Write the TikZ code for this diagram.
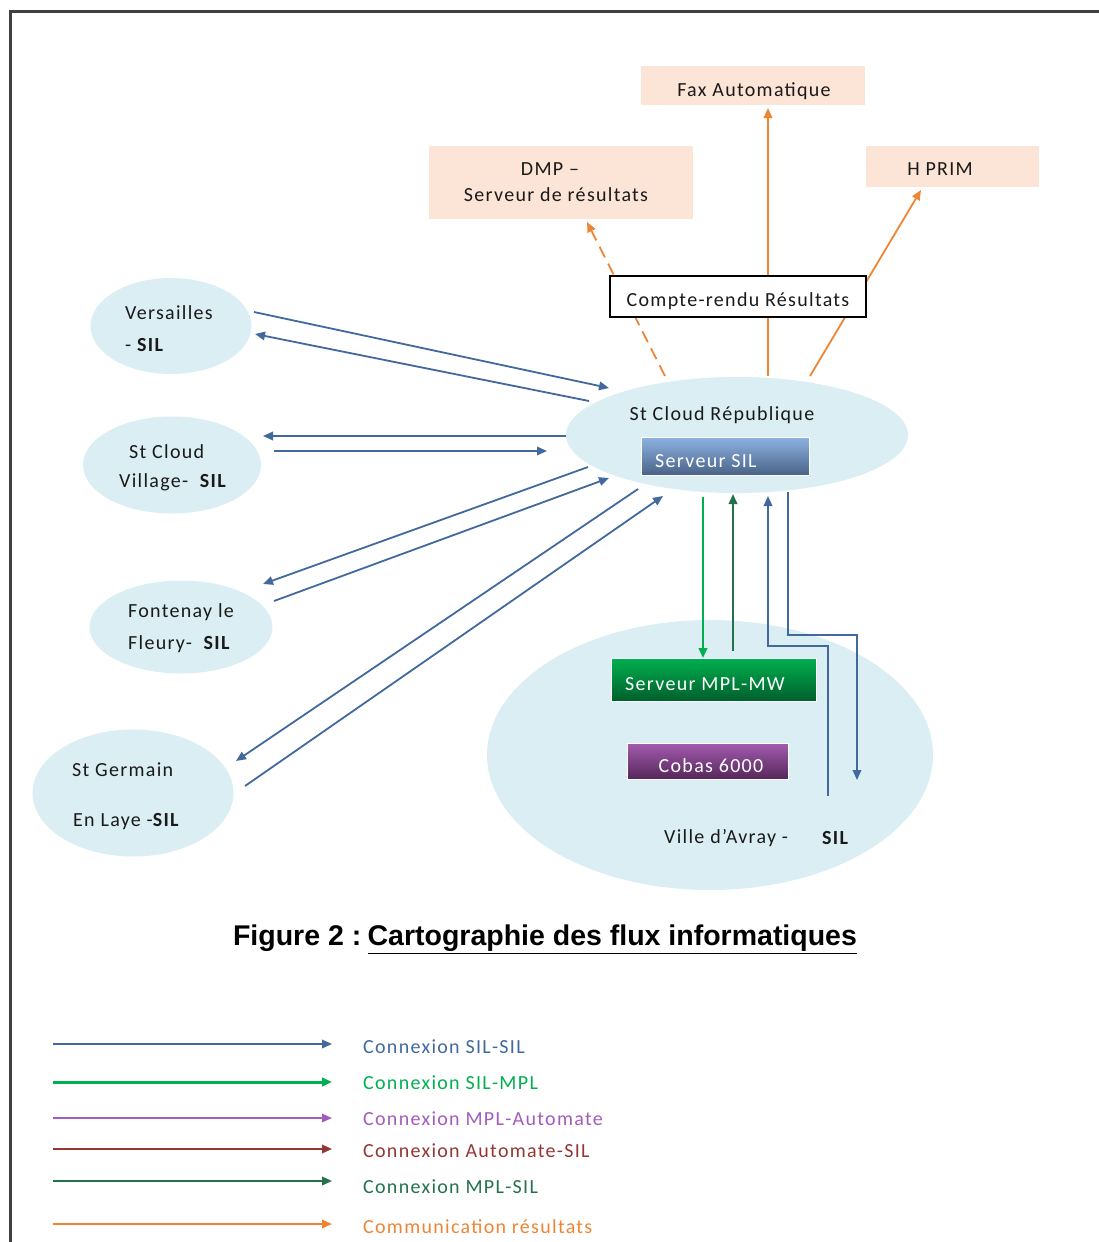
\documentclass[tikz,border=0pt]{standalone}
\usepackage{fontspec}
\setmainfont{Carlito}[LetterSpace=6.5]
\newfontfamily\capfont{Liberation Sans}
\usetikzlibrary{arrows.meta,shapes.geometric}

\definecolor{silblue}{HTML}{41699E}
\definecolor{mplgreen}{HTML}{00B050}
\definecolor{mpldark}{HTML}{23724B}
\definecolor{autopurple}{HTML}{A35CBB}
\definecolor{autobrown}{HTML}{943634}
\definecolor{resorange}{HTML}{EE8535}
\definecolor{peach}{HTML}{FCE4D6}
\definecolor{skyfill}{HTML}{DAEEF3}
\definecolor{framegray}{HTML}{404040}
\definecolor{txt}{HTML}{1A1A1A}
\definecolor{silTop}{HTML}{8DB3E2}
\definecolor{silBot}{HTML}{4A6388}
\definecolor{mplTop}{HTML}{00B050}
\definecolor{mplBot}{HTML}{005F2C}
\definecolor{cobTop}{HTML}{A35CAF}
\definecolor{cobBot}{HTML}{55265A}

\begin{document}
\begin{tikzpicture}[x=1pt,y=-1pt,
  site/.style={ellipse, fill=skyfill, draw=none, inner sep=0pt},
  lbl/.style={font=\fontsize{20}{24}\selectfont, text=txt, inner sep=0pt, anchor=west, yshift=-2pt},
  ctr/.style={font=\fontsize{20}{24}\selectfont, text=txt, inner sep=0pt, yshift=-2pt},
  resbox/.style={fill=peach, draw=none, inner sep=0pt},
  srvbox/.style={draw=white, line width=1pt, inner sep=0pt},
  srvtext/.style={font=\fontsize{20}{24}\selectfont, text=white, inner sep=0pt, yshift=-2pt},
  tip/.style={-{Triangle[length=10pt,width=8.5pt]}},
  silarrow/.style={draw=silblue, line width=1.8pt, tip},
  mplarrow/.style={draw=mplgreen, line width=2.2pt, tip},
  backarrow/.style={draw=mpldark, line width=2pt, tip},
  autoarrow/.style={draw=autopurple, line width=1.8pt, tip},
  brownarrow/.style={draw=autobrown, line width=1.8pt, tip},
  resarrow/.style={draw=resorange, line width=1.8pt, tip},
  legtext/.style={font=\fontsize{20}{24}\selectfont, inner sep=0pt, anchor=west, yshift=-2pt}]

\useasboundingbox (0,0) rectangle (1099,1242);

% page frame (left and top rules)
\draw[framegray, line width=3pt] (10.5,1242) -- (10.5,11.5) -- (1099,11.5);

% sites
\node[site, minimum width=342pt, minimum height=116pt] (rep) at (737,435) {};
\node[site, minimum width=446pt, minimum height=270pt] (va) at (710,755) {};
\node[site, minimum width=161pt, minimum height=96pt] (ver) at (171,326) {};
\node[site, minimum width=178pt, minimum height=97pt] (scv) at (172,465) {};
\node[site, minimum width=183pt, minimum height=93pt] (fon) at (181,627) {};
\node[site, minimum width=201pt, minimum height=127pt] (stg) at (133,793) {};

% result destinations
\node[resbox, minimum width=224pt, minimum height=39pt] (fax) at (753,85.5) {};
\node[ctr] (faxtxt) at (754,89) {Fax Automatique};
\node[resbox, minimum width=264pt, minimum height=73pt] (dmp) at (561,182.5) {};
\node[ctr] (dmptxt1) at (550,167) {DMP –};
\node[ctr] (dmptxt2) at (556,193) {Serveur de résultats};
\node[resbox, minimum width=173pt, minimum height=41pt] (hprim) at (952.5,166.5) {};
\node[ctr] (hprimtxt) at (940,167) {H PRIM};

% endpoints of the site-to-site links
\coordinate (v1s) at (254,312);  \coordinate (v1e) at (609,388);
\coordinate (v2s) at (589,401);  \coordinate (v2e) at (255,334);
\coordinate (c1s) at (566,436);  \coordinate (c1e) at (263,436);
\coordinate (c2s) at (274,451);  \coordinate (c2e) at (547,451);
\coordinate (f1s) at (588,467);  \coordinate (f1e) at (263,584);
\coordinate (f2s) at (274,601);  \coordinate (f2e) at (609,478);
\coordinate (g1s) at (638,489);  \coordinate (g1e) at (236,761);
\coordinate (g2s) at (245,786);  \coordinate (g2e) at (663,496);

\draw[silarrow] (v1s) -- (v1e);
\draw[silarrow] (v2s) -- (v2e);
\draw[silarrow] (c1s) -- (c1e);
\draw[silarrow] (c2s) -- (c2e);
\draw[silarrow] (f1s) -- (f1e);
\draw[silarrow] (f2s) -- (f2e);
\draw[silarrow] (g1s) -- (g1e);
\draw[silarrow] (g2s) -- (g2e);

% result communication
\coordinate (o1s) at (768,376);  \coordinate (o1e) at (768,108);
\coordinate (o2s) at (665,376);  \coordinate (o2e) at (587,222);
\coordinate (o3s) at (810,376);  \coordinate (o3e) at (921,190);
\draw[resarrow] (o1s) -- (o1e);
\draw[resarrow, dash pattern=on 12pt off 7pt] (o2s) -- (o2e);
\draw[resarrow] (o3s) -- (o3e);

\node[draw=black, line width=1.5pt, fill=white, minimum width=256pt, minimum height=41pt, inner sep=0pt] (cr) at (738,296.5) {};
\node[ctr] (crtxt) at (738,299) {Compte-rendu Résultats};

% central server
\node[srvbox, top color=silTop, bottom color=silBot, minimum width=168pt, minimum height=38pt] (ssil) at (725,456) {};
\node[ctr] (reptxt) at (722,413) {St Cloud République};
\node[srvtext, anchor=west] (ssiltxt) at (655,459) {Serveur SIL};

% Ville d'Avray
\node[srvbox, top color=mplTop, bottom color=mplBot, minimum width=205pt, minimum height=43pt] (mpl) at (713.5,679.5) {};
\node[srvtext, anchor=west] (mpltxt) at (625,682) {Serveur MPL-MW};
\node[srvbox, top color=cobTop, bottom color=cobBot, minimum width=161pt, minimum height=36pt] (cob) at (707.5,761) {};
\node[srvtext] (cobtxt) at (711,764) {Cobas 6000};
\node[lbl] (vatxt) at (664,836) {Ville d’Avray -};
\node[lbl] (vasil) at (822,836) {\bfseries SIL};

% server links
\coordinate (m1s) at (703,497);  \coordinate (m1e) at (703,658);
\coordinate (m2s) at (733,651);  \coordinate (m2e) at (733,494);
\draw[mplarrow] (m1s) -- (m1e);
\draw[backarrow] (m2s) -- (m2e);
\coordinate (u1) at (828,796);  \coordinate (u2) at (768,496);
\coordinate (d1) at (788,492);  \coordinate (d2) at (857,780);
\draw[silarrow] (u1) -- (828,646) -- (768,646) -- (u2);
\draw[silarrow] (d1) -- (788,635) -- (857,635) -- (d2);

% site labels
\node[lbl] (vertxt1) at (125,311) {Versailles};
\node[lbl] (vertxt2) at (125,343) {- \bfseries SIL};
\node[lbl] (scvtxt1) at (129,450) {St Cloud};
\node[lbl] (scvtxt2) at (119,480) {Village-\ \ \bfseries SIL};
\node[lbl] (fontxt1) at (128,610) {Fontenay le};
\node[lbl] (fontxt2) at (128,642) {Fleury-\ \ \bfseries SIL};
\node[lbl] (stgtxt1) at (72,768) {St Germain};
\node[lbl] (stgtxt2) at (73,820) {En Laye -\bfseries SIL};

% caption
\node[font=\capfont\bfseries\fontsize{28.5}{32}\selectfont, text=black, inner sep=0pt] (cap) at (545,939) {Figure 2 :\hspace{0.22em}\underline{Cartographie des flux informatiques}};

% legend
\coordinate (l1a) at (53,1044);  \coordinate (l1b) at (332,1044);
\coordinate (l2a) at (53,1082);  \coordinate (l2b) at (332,1082);
\coordinate (l3a) at (53,1118);  \coordinate (l3b) at (332,1118);
\coordinate (l4a) at (53,1149);  \coordinate (l4b) at (332,1149);
\coordinate (l5a) at (53,1181);  \coordinate (l5b) at (332,1181);
\coordinate (l6a) at (53,1224);  \coordinate (l6b) at (332,1224);
\draw[silarrow] (l1a) -- (l1b);
\draw[mplarrow, line width=3pt] (l2a) -- (l2b);
\draw[autoarrow] (l3a) -- (l3b);
\draw[brownarrow] (l4a) -- (l4b);
\draw[backarrow] (l5a) -- (l5b);
\draw[resarrow] (l6a) -- (l6b);
\node[legtext, text=silblue] (lt1) at (363,1045) {Connexion SIL-SIL};
\node[legtext, text=mplgreen] (lt2) at (363,1081) {Connexion SIL-MPL};
\node[legtext, text=autopurple] (lt3) at (363,1117) {Connexion MPL-Automate};
\node[legtext, text=autobrown] (lt4) at (363,1149) {Connexion Automate-SIL};
\node[legtext, text=mpldark] (lt5) at (363,1185) {Connexion MPL-SIL};
\node[legtext, text=resorange] (lt6) at (363,1225) {Communication résultats};
\end{tikzpicture}
\end{document}
